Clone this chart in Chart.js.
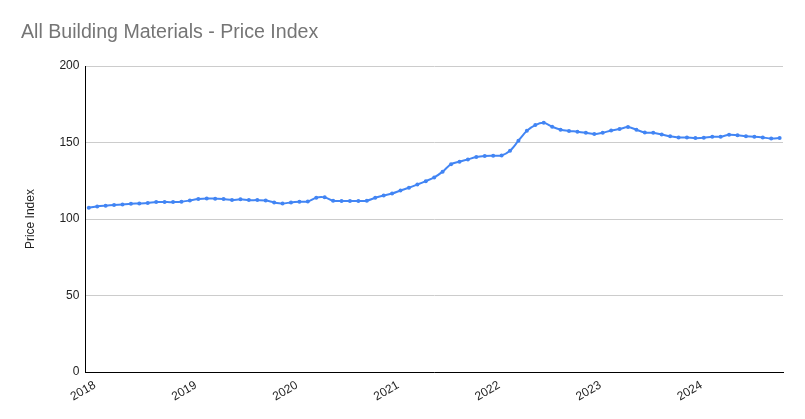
<!DOCTYPE html>
<html>
<head>
<meta charset="utf-8">
<script src="https://cdn.jsdelivr.net/npm/chart.js@4"></script>
<style>
  html, body { margin: 0; padding: 0; background: #fff; }
  #wrap { width: 805px; height: 419px; }
</style>
</head>
<body>
<div id="wrap"><canvas id="chart" width="805" height="419"></canvas></div>
<script>
// Monthly price index, Jan 2018 - Nov 2024
const startYear = 2018;
const yearLabels = ['2018', '2019', '2020', '2021', '2022', '2023', '2024'];
const priceIndex = [
  // 2018
  107.4, 108.3, 108.8, 109.2, 109.6, 110.0, 110.2, 110.5, 111.1, 111.1, 111.1, 111.3,
  // 2019
  112.2, 113.1, 113.5, 113.3, 113.1, 112.5, 112.9, 112.4, 112.4, 112.2, 110.9, 110.2,
  // 2020
  110.9, 111.3, 111.5, 114.0, 114.2, 112.0, 111.8, 111.8, 111.8, 112.0, 113.9, 115.4,
  // 2021
  116.7, 118.7, 120.5, 122.6, 124.8, 127.2, 131.0, 135.9, 137.5, 139.0, 140.5, 141.2,
  // 2022
  141.4, 141.6, 144.6, 151.2, 157.7, 161.4, 162.9, 160.3, 158.4, 157.6, 157.1, 156.4,
  // 2023
  155.6, 156.4, 157.9, 158.8, 160.1, 158.4, 156.6, 156.4, 155.3, 154.1, 153.3, 153.3,
  // 2024
  152.9, 153.1, 153.8, 153.8, 155.1, 154.7, 154.2, 153.8, 153.3, 152.7, 152.9
];

const points = priceIndex.map((v, i) => ({ x: i, y: v }));

new Chart(document.getElementById('chart'), {
  type: 'line',
  data: {
    datasets: [{
      label: 'Price Index',
      data: points,
      borderColor: '#4285f4',
      backgroundColor: '#4285f4',
      borderWidth: 2,
      pointRadius: 2,
      pointBorderWidth: 0,
      pointHoverRadius: 2,
      tension: 0.3,
    }],
  },
  options: {
    responsive: false,
    animation: false,
    layout: { padding: { left: 21, right: 22, top: 0, bottom: 9 } },
    plugins: {
      legend: { display: false },
      tooltip: { enabled: false },
      title: {
        display: true,
        text: 'All Building Materials - Price Index',
        align: 'start',
        color: '#757575',
        font: { family: 'Arial, "Liberation Sans", sans-serif', size: 19.6, weight: 'normal' },
        padding: { top: 20.7, bottom: 21.8 },
      },
    },
    scales: {
      x: {
        type: 'linear',
        min: -0.4,
        max: 82.4,
        afterBuildTicks: (scale) => {
          scale.ticks = yearLabels.map((_, k) => ({ value: k * 12 }));
        },
        grid: { display: false, drawTicks: false },
        border: { display: true, color: '#000', width: 1 },
        ticks: {
          autoSkip: false,
          minRotation: 30,
          maxRotation: 30,
          padding: 6,
          labelOffset: 6,
          color: '#222',
          font: { family: 'Arial, "Liberation Sans", sans-serif', size: 12 },
          callback: (v) => yearLabels[Math.round(v / 12)] ?? String(startYear + v / 12),
        },
      },
      y: {
        min: 0,
        max: 200,
        grid: { color: '#cccccc', drawTicks: false },
        border: { display: true, color: '#000', width: 1 },
        ticks: {
          stepSize: 50,
          padding: 6,
          color: '#222',
          font: { family: 'Arial, "Liberation Sans", sans-serif', size: 12 },
        },
        title: {
          display: true,
          text: 'Price Index',
          color: '#222',
          font: { family: 'Arial, "Liberation Sans", sans-serif', size: 12 },
          padding: { top: 2, bottom: 16 },
        },
      },
    },
  },
});
</script>
</body>
</html>
